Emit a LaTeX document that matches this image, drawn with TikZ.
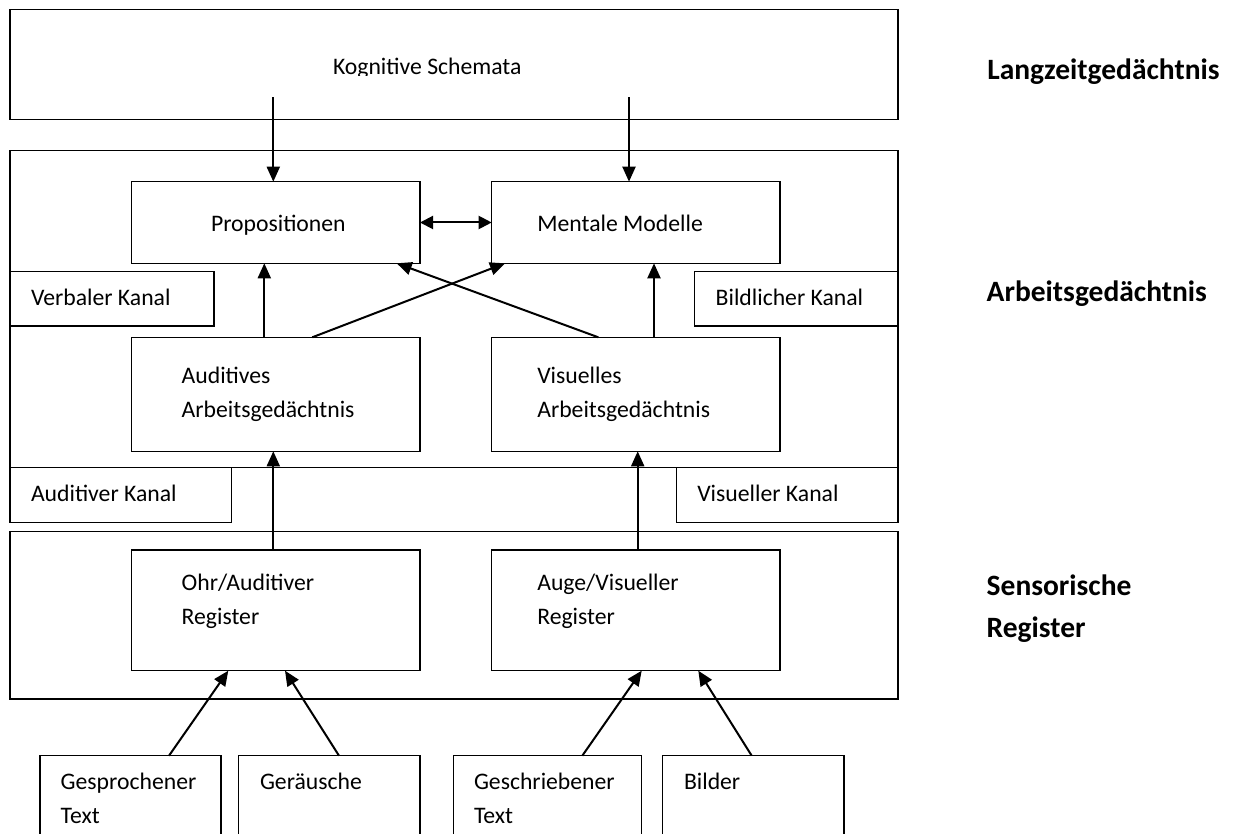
\documentclass[tikz,border=0pt]{standalone}
\usepackage{fontspec}
\setmainfont{Carlito}
\usetikzlibrary{arrows.meta,calc}
\tikzset{
  box/.style={draw=black, line width=1.3pt, fill=none, inner sep=0pt, outer sep=0pt, anchor=north west},
  txt/.style={anchor=base west, inner sep=0pt, outer sep=0pt, align=left, font=\fontsize{23.7}{33.3}\selectfont},
  lbl/.style={anchor=base west, inner sep=0pt, outer sep=0pt, align=left, font=\fontsize{29.5}{42}\selectfont\bfseries},
  arr/.style={line width=2pt, -{Triangle[length=15pt,width=13pt]}},
  darr/.style={line width=2pt, {Triangle[length=13pt,width=13pt]}-{Triangle[length=13pt,width=13pt]}}
}
\newcommand\mkbox[5]{\node[box, minimum width={#4-#2}, minimum height={#5-#3}] (#1) at (#2,#3) {};}
\begin{document}
\begin{tikzpicture}[x=1pt,y=-1pt]
\useasboundingbox[fill=white] (0,0) rectangle (1235,834);
% containers
\mkbox{ltm}{10}{9.3}{898}{119.3}
\mkbox{wm}{10}{150.7}{898}{467.3}
\mkbox{sr}{10}{531.3}{898}{699}
% inner boxes
\mkbox{prop}{131.7}{181.7}{420}{263.3}
\mkbox{mm}{491.7}{181.7}{780}{263.3}
\mkbox{verb}{10}{271.7}{214}{326}
\mkbox{bild}{694.3}{271.7}{898}{326}
\mkbox{aud}{131.7}{337.3}{420}{451.3}
\mkbox{vis}{491.7}{337.3}{780}{451.3}
\mkbox{audk}{10}{467.3}{231.7}{522.3}
\mkbox{visk}{676.7}{467.3}{898}{522.3}
\mkbox{ohr}{131.7}{550}{420}{670.7}
\mkbox{auge}{491.7}{550}{780}{670.7}
\mkbox{gesp}{40}{755.7}{221}{860}
\mkbox{ger}{238.7}{755.7}{420}{860}
\mkbox{gesch}{453.3}{755.7}{641.7}{860}
\mkbox{bilder}{662.7}{755.7}{844}{860}
% texts (multi-line nodes are placed at the baseline of their last line)
\begin{scope}
\clip (0,0) rectangle (1235,75.5);
\node[txt] (tks) at (333,75) {Kognitive Schemata};
\end{scope}
\node[txt] (tprop) at (211,231.7) {Propositionen};
\node[txt] (tmm) at (537.3,231.7) {Mentale Modelle};
\node[txt] (tverb) at (31,306) {Verbaler Kanal};
\node[txt] (tbild) at (715.7,306) {Bildlicher Kanal};
\node[txt] (taud) at (181.7,417.3) {Auditives\\Arbeitsgedächtnis};
\node[txt] (tvis) at (537.3,417.3) {Visuelles\\Arbeitsgedächtnis};
\node[txt] (taudk) at (31,501.3) {Auditiver Kanal};
\node[txt] (tvisk) at (697.3,501.3) {Visueller Kanal};
\node[txt] (tohr) at (181.7,624) {Ohr/Auditiver\\Register};
\node[txt] (tauge) at (537.3,624) {Auge/Visueller\\Register};
\node[txt] (tgesp) at (60.7,823) {Gesprochener\\Text};
\node[txt] (tger) at (260,789.7) {Geräusche};
\node[txt] (tgesch) at (474,823) {Geschriebener\\Text};
\node[txt] (tbilder) at (684,789.7) {Bilder};
% side labels
\node[lbl] (lltm) at (987.3,79.3) {Langzeitgedächtnis};
\node[lbl] (lwm) at (986.7,301.7) {Arbeitsgedächtnis};
\node[lbl] (lsr) at (986.7,637.3) {Sensorische\\Register};
% arrows
\draw[arr] ($(ltm.south west)+(263.3,-22)$) -- ($(prop.north west)+(141.6,0)$);
\draw[arr] ($(ltm.south west)+(619,-22)$) -- ($(mm.north west)+(137.3,0)$);
\draw[darr] (prop.east) -- (mm.west);
\draw[arr] ($(aud.north west)+(132.6,0)$) -- ($(prop.south west)+(132.6,0)$);
\draw[arr] ($(aud.north west)+(180.6,0)$) -- ($(mm.south west)+(13.3,0)$);
\draw[arr] ($(vis.north west)+(106.6,0)$) -- ($(prop.south east)+(-23.3,0)$);
\draw[arr] ($(vis.north west)+(162.3,0)$) -- ($(mm.south west)+(162.3,0)$);
\draw[arr] ($(ohr.north west)+(141.6,0)$) -- ($(aud.south west)+(141.6,0)$);
\draw[arr] ($(auge.north west)+(146,0)$) -- ($(vis.south west)+(146,0)$);
\draw[arr] ($(gesp.north west)+(129,0)$) -- ($(ohr.south west)+(96.6,0)$);
\draw[arr] ($(ger.north west)+(100.3,0)$) -- ($(ohr.south west)+(153.3,0)$);
\draw[arr] ($(gesch.north west)+(129,0)$) -- ($(auge.south west)+(150,0)$);
\draw[arr] ($(bilder.north west)+(89,0)$) -- ($(auge.south west)+(206.6,0)$);
\end{tikzpicture}
\end{document}
